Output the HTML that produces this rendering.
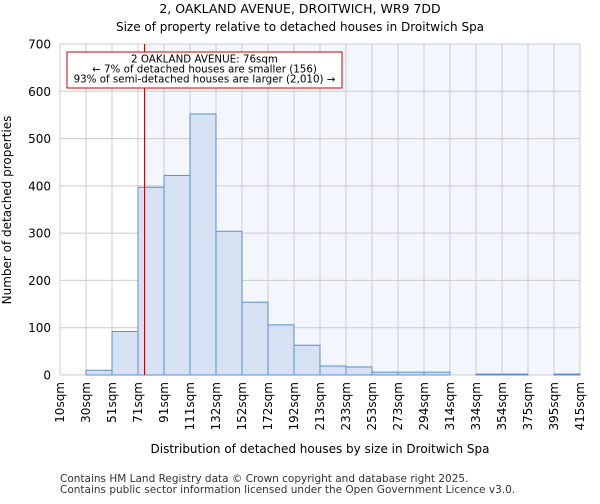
<!DOCTYPE html>
<html><head><meta charset="utf-8"><style>
body{margin:0;background:#fff;font-family:"DejaVu Sans","Liberation Sans",sans-serif}
</style></head><body>
<svg id="chart" width="600" height="500" xmlns="http://www.w3.org/2000/svg" font-family="DejaVu Sans, Liberation Sans, sans-serif">
<text x="300" y="13" text-anchor="middle" font-size="12.5">2, OAKLAND AVENUE, DROITWICH, WR9 7DD</text>
<text x="300" y="31" text-anchor="middle" font-size="12">Size of property relative to detached houses in Droitwich Spa</text>
<g id="plot"></g>
<text x="320" y="453" text-anchor="middle" font-size="12">Distribution of detached houses by size in Droitwich Spa</text>
<text transform="translate(11,210) rotate(-90)" text-anchor="middle" font-size="12">Number of detached properties</text>
<text x="60" y="482" font-size="10.5" fill="#333">Contains HM Land Registry data © Crown copyright and database right 2025.</text>
<text x="60" y="493" font-size="10.5" fill="#333">Contains public sector information licensed under the Open Government Licence v3.0.</text>
</svg>
<script>
const xLabels=["10sqm","30sqm","51sqm","71sqm","91sqm","111sqm","132sqm","152sqm","172sqm","192sqm","213sqm","233sqm","253sqm","273sqm","294sqm","314sqm","334sqm","354sqm","375sqm","395sqm","415sqm"];
const counts=[0,10,92,397,422,552,304,154,106,63,19,17,6,6,6,0,2,2,0,2];
const yTicks=[0,100,200,300,400,500,600,700];
const propertyBin=3.25;
const NS="http://www.w3.org/2000/svg";
const L=60,R=580,T=44,B=375,yMax=700;
const bw=(R-L)/counts.length;
const xs=i=>L+i*bw;
const ys=v=>B-(v/yMax)*(B-T);
const g=document.getElementById('plot');
function mk(tag,attrs){const e=document.createElementNS(NS,tag);for(const k in attrs)e.setAttribute(k,attrs[k]);g.appendChild(e);return e;}
const px=xs(propertyBin);
let e=mk('rect',{x:L,y:T,width:R-L,height:B-T,fill:'#fff'});


e=mk('rect',{x:px,y:T,width:R-px,height:B-T,fill:'#f3f6fd'});


for(let i=0;i<xLabels.length;i++){
 e=mk('line',{x1:xs(i),x2:xs(i),y1:T,y2:B,stroke:'#cccccc','stroke-width':1});
 
 
}
yTicks.forEach(t=>{
 e=mk('line',{x1:L,x2:R,y1:ys(t),y2:ys(t),stroke:'#cccccc','stroke-width':1});
 
 
 e=mk('text',{x:L-9,y:ys(t)+4.5,'text-anchor':'end','font-size':12});
 e.textContent=t;
 
 
});
counts.forEach((c,i)=>{
 if(c<=0)return;
 e=mk('rect',{x:xs(i),y:ys(c),width:bw,height:B-ys(c),fill:'#d6e1f3',stroke:'#5b8fd6','stroke-width':1});
 
 
});
xLabels.forEach((l,i)=>{
 const x=xs(i)+4;
 e=mk('text',{transform:`translate(${x},${B+7}) rotate(-90)`,'text-anchor':'end','font-size':12});
 e.textContent=l;
 
 
});
e=mk('line',{x1:L,x2:L,y1:T,y2:B,stroke:'#ccc'});


e=mk('line',{x1:px,x2:px,y1:T,y2:B,stroke:'#cc0000','stroke-width':1});


e=mk('rect',{x:67,y:52,width:275,height:36,fill:'#fff',stroke:'#cc0000','stroke-width':1});


const ann=["2 OAKLAND AVENUE: 76sqm","← 7% of detached houses are smaller (156)","93% of semi-detached houses are larger (2,010) →"];
ann.forEach((t,i)=>{
 e=mk('text',{x:204.5,y:62.5+i*10,'text-anchor':'middle','font-size':10.3});
 e.textContent=t;
 
 
});
</script>
</body></html>
